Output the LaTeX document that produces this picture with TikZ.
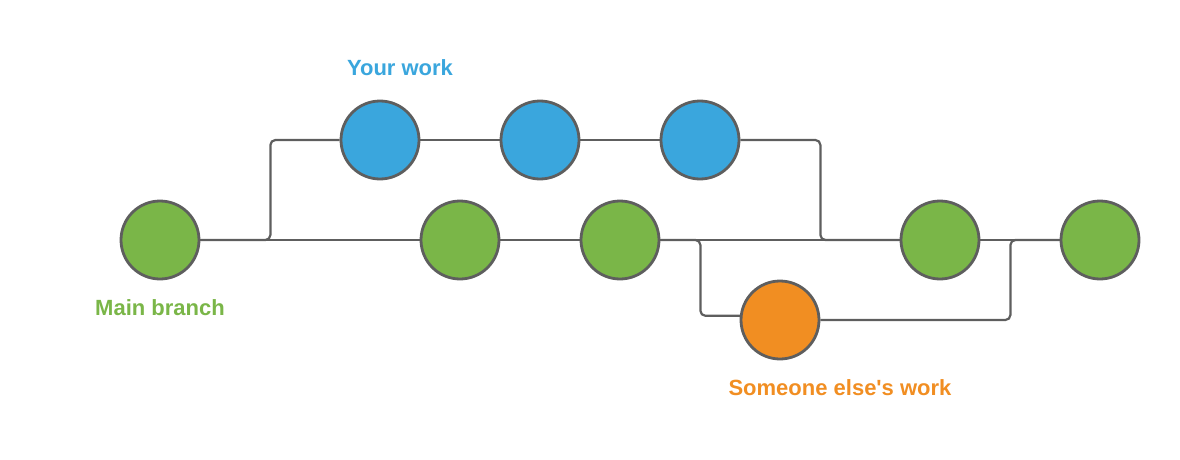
\documentclass[tikz,border=0pt]{standalone}
\usepackage{fontspec}
\setsansfont{Liberation Sans}
\usepackage{tikz}
\definecolor{mainc}{HTML}{7AB648}
\definecolor{yourc}{HTML}{3AA6DD}
\definecolor{otherc}{HTML}{F18E22}
\definecolor{edgec}{HTML}{5E5E5E}

\begin{document}
\begin{tikzpicture}[x=1pt,y=-1pt,
  commit/.style={circle,draw=edgec,line width=2.8pt,minimum size=78pt,inner sep=0pt},
  link/.style={draw=edgec,line width=2.2pt,rounded corners=5pt},
  lbl/.style={font=\sffamily\bfseries\fontsize{22}{22}\selectfont}]
\useasboundingbox (0,0) rectangle (1180,460);
\node[commit,fill=mainc] (g1) at (160,240) {};
\node[commit,fill=mainc] (g2) at (460,240) {};
\node[commit,fill=mainc] (g3) at (620,240) {};
\node[commit,fill=mainc] (g4) at (940,240) {};
\node[commit,fill=mainc] (g5) at (1100,240) {};
\node[commit,fill=yourc] (b1) at (380,140) {};
\node[commit,fill=yourc] (b2) at (540,140) {};
\node[commit,fill=yourc] (b3) at (700,140) {};
\node[commit,fill=otherc] (o1) at (780,320) {};
\draw[link] (g1) -- (g2) (g2) -- (g3) (g3) -- (g4) (g4) -- (g5);
\draw[link] (b1) -- (b2) (b2) -- (b3);
\draw[link] (g1.east) -- ++(70,0) |- (b1.west);
\draw[link] (b3.east) -- ++(80,0) |- (g4.west);
\draw[link] (g3.east) -- ++(40,0) |- (o1.174);
\draw[link] (o1.east) -- ++(190,0) |- (g5.west);
\node[lbl,text=yourc] (ylbl) at (400,68) {Your work};
\node[lbl,text=mainc] (mlbl) at (160,308) {Main branch};
\node[lbl,text=otherc] (olbl) at (840,388) {Someone else\textquotesingle s work};
\end{tikzpicture}
\end{document}
